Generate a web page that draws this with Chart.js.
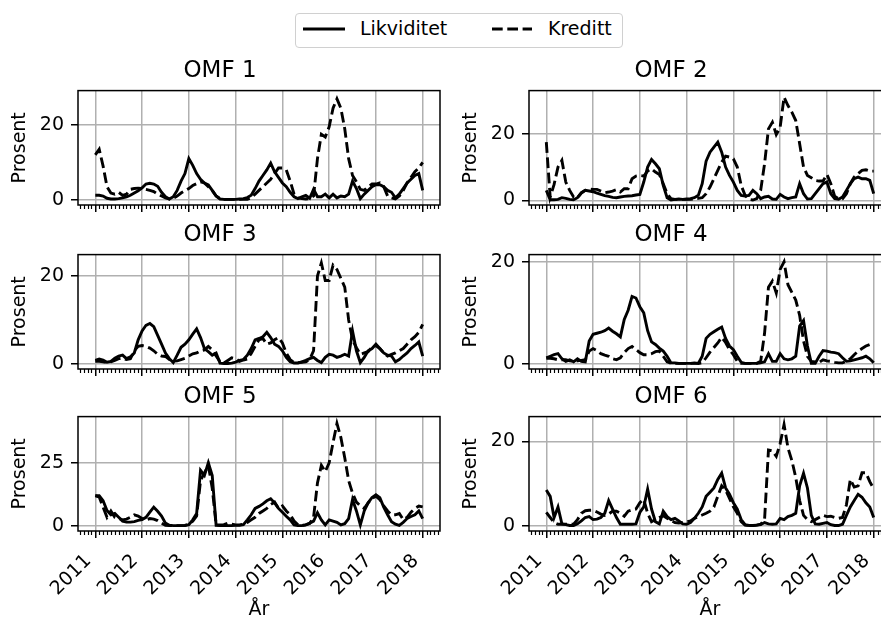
<!DOCTYPE html>
<html lang="no">
<head>
<meta charset="utf-8">
<script src="https://cdn.jsdelivr.net/npm/chart.js@4.4.1/dist/chart.umd.min.js"></script>
<style>
  html, body { margin: 0; padding: 0; background: #fff; }
  body { position: relative; width: 881px; height: 617px; overflow: hidden; font-family: 'DejaVu Sans', sans-serif; }
  canvas { position: absolute; }
  #legende { position: absolute; left: 295px; top: 13px; width: 326px; height: 33px; border: 1.5px solid #d0d0d0; border-radius: 4px; background: #fff; }
  #legende span { position: absolute; top: 5px; font-size: 19px; line-height: 19px; color: #000; }
  #legende svg { position: absolute; left: 0; top: 0; }
</style>
</head>
<body>
<div id="legende">
  <svg width="326" height="33">
    <line x1="7" y1="15" x2="49" y2="15" stroke="#000" stroke-width="2.9"/>
    <line x1="196" y1="15" x2="236" y2="15" stroke="#000" stroke-width="2.9" stroke-dasharray="10.7 4.6"/>
  </svg>
  <span style="left:64px">Likviditet</span>
  <span style="left:252px">Kreditt</span>
</div>
<script>
// månedlige verdier, jan 2011 - jan 2018
const startAar = 2011;
const antallMnd = 85;
const aarTicks = [2011, 2012, 2013, 2014, 2015, 2016, 2017, 2018];

const omf1Likviditet = [
  1.2,1.2,1.0,0.4,0.2,0.2,0.3,0.5,0.8,1.2,1.8,2.4,
  3.2,4.2,4.4,4.2,3.6,2.0,0.8,0.2,0.8,2.5,5.0,7.0,
  11.0,9.2,7.0,5.5,4.5,4.0,2.5,1.0,0.2,0.1,0.1,0.1,
  0.1,0.2,0.3,0.6,1.2,3.0,5.0,6.5,8.0,9.8,7.5,6.0,
  4.5,3.5,2.0,0.8,0.3,0.8,1.2,0.4,2.8,0.8,0.8,1.5,
  0.5,1.5,0.5,1.0,0.8,1.5,5.0,3.0,0.3,1.5,2.5,3.5,
  4.0,4.0,3.5,2.5,2.0,0.5,1.5,3.0,4.5,5.5,6.5,7.0,
  2.5];
const omf1Kreditt = [
  12.0,13.5,9.0,3.5,1.8,1.5,2.0,1.2,1.5,2.8,3.0,3.1,
  3.0,2.8,2.5,2.2,1.5,1.0,0.5,0.2,0.4,1.0,1.8,2.4,
  3.0,3.8,4.3,4.8,4.5,3.5,2.5,1.0,0.3,0.1,0.1,0.1,
  0.1,0.1,0.1,0.1,0.5,1.5,2.5,3.5,4.5,5.5,7.0,8.5,
  8.5,8.0,5.0,1.5,0.5,0.3,0.2,0.3,1.0,11.0,17.5,16.8,
  19.5,24.5,27.0,24.5,19.0,11.0,6.5,4.8,2.8,2.5,3.5,4.2,
  4.2,4.5,3.5,1.0,0.5,0.2,1.0,2.5,4.5,6.0,7.5,8.5,
  10.0];

const omf2Likviditet = [
  3.0,0.2,0.2,0.3,0.8,0.6,0.3,0.2,0.8,2.3,3.0,2.8,
  2.6,2.2,1.8,1.4,1.2,0.9,0.8,1.0,1.2,1.3,1.4,1.6,
  1.8,5.5,10.0,12.3,11.0,9.5,4.5,0.8,0.1,0.3,0.4,0.3,
  0.4,0.5,0.8,1.5,5.0,11.8,14.5,16.0,17.5,14.5,10.0,7.5,
  5.5,3.0,1.5,1.3,1.5,3.0,2.0,0.5,1.0,1.2,0.4,0.3,
  1.8,1.0,0.5,0.8,1.0,5.0,2.0,0.4,0.5,2.0,3.5,5.0,
  5.5,2.0,0.5,0.3,1.0,3.0,5.0,6.5,7.0,6.5,6.5,6.0,
  2.0];
const omf2Kreditt = [
  17.5,1.0,4.8,10.0,12.0,5.5,3.0,1.0,0.8,2.2,3.0,3.4,
  3.3,3.3,2.8,2.3,2.5,2.8,3.2,2.5,3.5,3.5,6.5,7.3,
  7.5,7.3,8.8,9.5,8.5,7.8,5.0,2.0,0.5,0.3,0.3,0.3,
  0.3,0.3,0.5,0.6,0.8,2.0,4.0,6.5,9.0,11.5,13.3,13.0,
  12.5,10.0,4.5,1.5,0.3,0.1,0.5,3.0,11.0,21.5,23.5,19.8,
  22.0,31.0,28.5,26.5,24.0,17.0,10.0,7.5,6.8,6.0,5.8,5.8,
  7.8,5.0,1.2,0.5,0.5,2.0,5.0,7.0,8.0,9.0,9.2,8.8,
  8.8];

const omf3Likviditet = [
  0.8,1.1,0.9,0.4,0.6,1.3,1.8,2.0,1.2,1.6,2.5,5.5,
  7.5,8.8,9.2,8.5,6.5,4.5,2.5,1.2,0.3,2.0,3.8,4.5,
  5.5,6.8,8.0,6.0,3.5,2.8,2.0,2.5,0.2,0.1,0.1,0.2,
  0.4,0.8,1.0,2.0,3.5,5.5,5.8,6.2,7.2,6.0,4.5,4.0,
  3.0,1.5,0.5,0.2,0.2,0.5,0.8,1.2,1.5,0.8,0.3,1.5,
  2.2,2.0,1.5,1.8,2.2,1.8,7.5,3.0,0.3,1.5,3.0,3.5,
  4.5,3.5,2.5,2.0,1.8,0.5,1.0,1.8,2.5,3.5,4.2,5.0,
  1.8];
const omf3Kreditt = [
  0.6,0.6,0.5,0.3,0.5,0.8,1.2,1.3,1.0,1.2,3.0,4.0,
  4.2,4.0,3.6,3.0,2.2,1.8,1.7,1.0,0.6,0.7,1.0,1.3,
  1.8,2.3,2.5,3.0,3.2,4.0,3.2,1.8,0.5,0.2,0.8,1.4,
  1.2,0.6,0.9,1.1,2.4,4.0,5.5,5.8,4.5,4.8,5.5,6.0,
  4.8,2.5,1.0,0.3,0.3,0.4,0.5,1.0,3.0,20.0,23.0,19.0,
  19.0,22.5,21.5,19.5,17.5,10.0,5.5,3.7,2.2,2.5,2.8,3.8,
  4.2,3.5,2.5,1.8,2.2,2.5,3.0,3.5,4.5,5.5,6.2,7.2,
  9.0];

const omf4Likviditet = [
  1.2,1.5,1.8,2.0,1.0,0.5,0.8,0.4,1.0,0.5,0.4,4.5,
  5.8,6.0,6.2,6.5,7.0,6.4,5.9,5.3,8.7,10.5,13.2,12.9,
  11.2,10.0,6.5,4.3,3.8,3.1,2.5,1.5,0.2,0.2,0.1,0.1,
  0.1,0.1,0.2,0.1,1.5,5.0,5.8,6.3,6.8,7.2,5.0,3.5,
  2.8,1.5,0.3,0.1,0.1,0.1,0.1,0.2,0.4,2.0,0.5,0.5,
  2.0,1.0,0.8,1.0,1.5,7.4,8.5,3.5,0.1,0.1,1.5,2.6,
  2.5,2.3,2.2,2.0,1.2,0.5,0.6,0.8,1.0,1.2,1.5,1.0,
  0.2];
const omf4Kreditt = [
  1.1,1.1,1.0,0.8,0.8,0.8,0.6,0.5,0.6,0.7,0.8,2.5,
  3.0,2.6,2.0,1.7,1.5,1.0,0.8,1.2,2.2,3.0,3.4,2.8,
  2.2,1.8,1.8,2.0,2.4,2.5,1.5,0.4,0.1,0.1,0.1,0.1,
  0.1,0.1,0.1,0.1,0.2,1.2,2.3,3.2,4.1,5.2,4.2,2.8,
  1.8,0.5,0.1,0.1,0.1,0.1,0.1,0.5,6.0,15.0,16.2,13.9,
  18.5,20.0,15.5,14.0,12.5,9.5,4.5,1.5,0.5,0.4,0.3,0.8,
  0.6,0.5,0.3,0.2,0.2,0.5,1.0,1.8,2.5,3.0,3.5,3.8,
  3.8];

const omf5Likviditet = [
  12.0,12.0,10.0,6.2,4.5,5.0,3.5,2.0,1.6,1.6,1.8,2.3,
  2.6,3.5,5.5,7.5,5.9,4.0,1.2,0.4,0.2,0.2,0.2,0.2,
  0.6,2.5,5.0,22.0,20.0,25.0,20.0,0.3,0.2,0.2,0.2,0.2,
  0.3,0.3,0.6,2.5,4.5,7.0,7.8,8.8,10.0,10.8,9.2,7.0,
  5.5,3.9,2.5,0.5,0.2,0.2,0.5,1.2,2.0,5.3,2.5,0.5,
  2.5,2.0,1.5,0.5,1.0,3.0,10.5,6.0,0.5,6.0,9.2,11.3,
  12.4,11.2,7.5,4.5,1.8,0.8,0.3,1.5,3.0,3.8,4.5,6.0,
  3.0];
const omf5Kreditt = [
  12.0,11.5,7.5,3.5,6.0,3.5,3.0,2.5,2.8,3.5,4.5,4.0,
  3.0,2.5,3.0,2.8,2.2,1.2,0.3,0.2,0.2,0.2,0.2,0.3,
  0.8,2.0,4.0,18.0,21.0,24.0,15.0,0.5,0.5,0.6,1.2,0.8,
  0.5,0.5,0.8,1.5,2.5,3.5,5.0,6.0,7.0,8.5,9.5,7.0,
  8.0,6.0,4.5,2.0,0.5,0.3,0.5,1.0,3.5,17.0,24.0,21.5,
  25.0,33.0,40.5,35.0,27.0,18.0,13.0,9.5,8.0,7.0,9.2,11.0,
  11.8,10.5,8.0,6.0,4.5,4.5,5.0,2.6,3.5,5.5,7.0,7.9,
  7.6];

const omf6Likviditet = [
  8.5,7.0,2.0,4.5,0.5,0.3,0.1,0.1,0.5,1.2,2.0,2.2,
  1.5,1.6,2.0,3.0,6.0,4.0,2.0,0.4,0.4,0.4,0.4,0.5,
  3.2,4.5,8.7,4.0,1.0,0.5,3.5,2.2,1.5,1.8,1.2,0.5,
  0.4,0.8,1.8,3.0,4.5,7.0,8.0,9.0,11.0,12.5,9.0,7.5,
  5.5,4.0,1.5,0.3,0.1,0.1,0.2,0.3,0.8,0.5,0.4,0.5,
  1.8,1.5,2.2,2.5,3.0,9.5,12.5,9.0,2.5,0.5,0.4,0.6,
  0.8,0.3,0.1,0.1,0.4,2.5,4.5,6.0,7.5,6.8,5.5,4.5,
  2.0];
const omf6Kreditt = [
  3.2,2.0,0.8,0.4,0.4,0.4,0.4,0.4,1.5,3.0,3.6,3.7,
  3.7,3.3,2.8,2.5,2.8,3.5,3.5,3.0,2.3,3.5,3.8,4.0,
  5.5,6.3,3.0,1.0,1.5,2.0,2.4,1.8,1.3,0.8,0.7,0.8,
  1.0,1.2,1.8,2.2,2.6,3.0,3.5,4.5,7.0,9.5,8.5,6.5,
  4.5,3.0,1.0,0.2,0.1,0.1,0.2,0.4,1.5,18.0,17.8,16.5,
  19.5,24.0,18.5,15.5,11.5,6.0,2.5,1.5,1.0,1.5,2.0,2.5,
  2.2,2.3,2.0,1.8,2.0,5.0,11.0,9.2,9.5,12.6,12.6,10.5,
  8.8];

const tid = Array.from({ length: antallMnd }, (_, i) => startAar + i / 12);

const paneler = [
  { tittel: 'OMF 1', likv: omf1Likviditet, kred: omf1Kreditt, yMin: -1.4, yMax: 29.2, yTicks: [0, 20] },
  { tittel: 'OMF 2', likv: omf2Likviditet, kred: omf2Kreditt, yMin: -1.4, yMax: 33.0, yTicks: [0, 20] },
  { tittel: 'OMF 3', likv: omf3Likviditet, kred: omf3Kreditt, yMin: -1.15, yMax: 24.9, yTicks: [0, 20] },
  { tittel: 'OMF 4', likv: omf4Likviditet, kred: omf4Kreditt, yMin: -1.0, yMax: 21.4, yTicks: [0, 20] },
  { tittel: 'OMF 5', likv: omf5Likviditet, kred: omf5Kreditt, yMin: -1.9, yMax: 43.2, yTicks: [0, 25] },
  { tittel: 'OMF 6', likv: omf6Likviditet, kred: omf6Kreditt, yMin: -1.2, yMax: 25.9, yTicks: [0, 20] },
];

const xMin = 2010.63;
const xMax = 2018.37;
const kolonneVenstre = [0, 451];
const radTopp = [57, 221, 383];
const bredde = 460;
const hoyde = 238;

Chart.defaults.font.family = "'DejaVu Sans', sans-serif";
Chart.defaults.color = '#000';

// ramme rundt plottet og små månedsstreker på x-aksen
const ramme = {
  id: 'ramme',
  afterDraw(chart) {
    const { ctx, chartArea: a, scales: { x } } = chart;
    ctx.save();
    ctx.strokeStyle = '#000';
    ctx.lineWidth = 1.15;
    ctx.beginPath();
    for (let m = Math.ceil(x.min * 12); m <= x.max * 12; m++) {
      if (m % 12 === 0) continue;
      const px = Math.round(x.getPixelForValue(m / 12)) + 0.5;
      ctx.moveTo(px, a.bottom);
      ctx.lineTo(px, a.bottom + 4);
    }
    ctx.stroke();
    ctx.lineWidth = 1.5;
    ctx.strokeRect(a.left, a.top, a.right - a.left, a.bottom - a.top);
    ctx.restore();
  }
};

const rutenett = { color: '#b0b0b0', lineWidth: 1.5, tickColor: '#000', tickLength: 7, tickWidth: 1.5 };

paneler.forEach((p, n) => {
  const kol = n % 2;
  const rad = Math.floor(n / 2);
  const nederst = rad === 2;

  const canvas = document.createElement('canvas');
  canvas.width = bredde;
  canvas.height = hoyde;
  canvas.style.left = kolonneVenstre[kol] + 'px';
  canvas.style.top = radTopp[rad] + 'px';
  document.body.appendChild(canvas);

  new Chart(canvas.getContext('2d'), {
    type: 'line',
    data: {
      datasets: [
        { label: 'Likviditet', data: p.likv.map((v, i) => ({ x: tid[i], y: v })), borderColor: '#000', borderWidth: 2.9 },
        { label: 'Kreditt', data: p.kred.map((v, i) => ({ x: tid[i], y: v })), borderColor: '#000', borderWidth: 2.9, borderDash: [10.7, 4.6] },
      ],
    },
    options: {
      responsive: false,
      animation: false,
      devicePixelRatio: 1,
      layout: { padding: { left: 0, right: 20, top: 0, bottom: 0 } },
      elements: { point: { radius: 0 }, line: { tension: 0 } },
      plugins: {
        legend: { display: false },
        tooltip: { enabled: false },
        title: { display: true, text: p.tittel, color: '#000', font: { size: 23, weight: 'normal' }, padding: { top: 0, bottom: 6 } },
      },
      scales: {
        x: {
          type: 'linear',
          min: xMin,
          max: xMax,
          afterBuildTicks: s => { s.ticks = aarTicks.map(v => ({ value: v })); },
          afterFit: s => { s.height = 90; s.paddingLeft = 0; s.paddingRight = 0; },
          ticks: {
            display: nederst, autoSkip: false, minRotation: 45, maxRotation: 45,
            padding: 12, labelOffset: -7, font: { size: 19 }, color: '#000',
            callback: v => String(v),
          },
          grid: rutenett,
          border: { display: false },
          title: { display: nederst, text: 'År', color: '#000', font: { size: 19 }, padding: { top: 0, bottom: 0 } },
        },
        y: {
          min: p.yMin,
          max: p.yMax,
          afterBuildTicks: s => { s.ticks = p.yTicks.map(v => ({ value: v })); },
          afterFit: s => { s.width = 78; s.paddingTop = 0; s.paddingBottom = 0; },
          ticks: { padding: 7, font: { size: 19 }, color: '#000' },
          grid: rutenett,
          border: { display: false },
          title: { display: true, text: 'Prosent', color: '#000', font: { size: 19 }, padding: { top: 9, bottom: 0 } },
        },
      },
    },
    plugins: [ramme],
  });
});
</script>
</body>
</html>
